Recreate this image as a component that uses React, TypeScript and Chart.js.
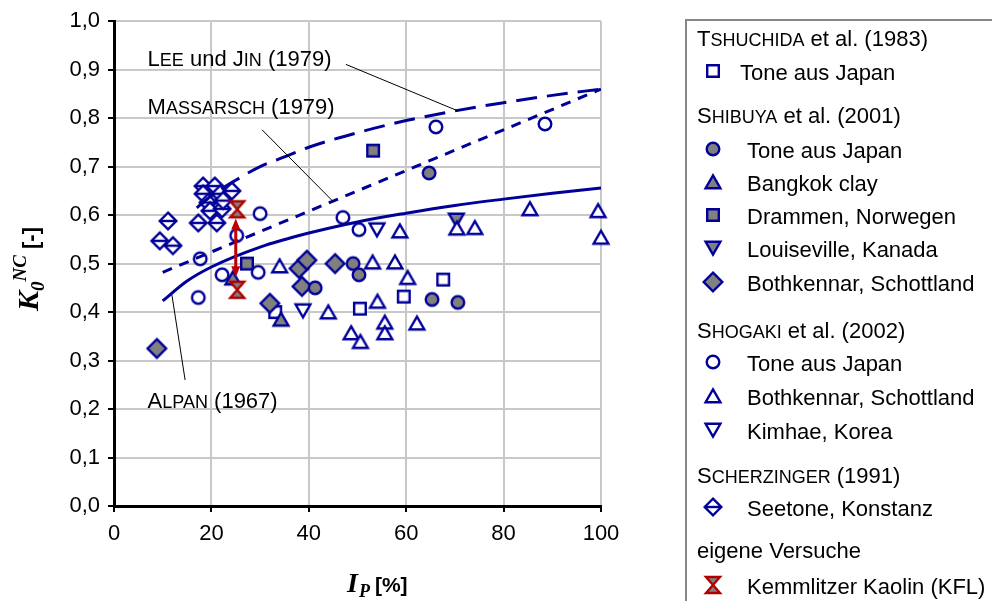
import React, { useEffect, useRef } from 'react';
import { Chart, registerables } from 'chart.js';

Chart.register(...registerables);

// ---------- tick labels ----------
const xTickLabels = ['0', '20', '40', '60', '80', '100'];
const yTickLabels = ['0,0', '0,1', '0,2', '0,3', '0,4', '0,5', '0,6', '0,7', '0,8', '0,9', '1,0'];

// ---------- TSHUCHIDA et al. (1983) ----------
const tshuchidaToneX = [33.1, 50.5, 59.5, 67.6];
const tshuchidaToneY = [0.4, 0.407, 0.432, 0.467];

// ---------- SHIBUYA et al. (2001) ----------
const shibuyaToneX = [41.3, 49.1, 50.3, 64.7, 65.3, 70.6];
const shibuyaToneY = [0.45, 0.5, 0.477, 0.687, 0.426, 0.42];
const bangkokX = [24.4, 34.3];
const bangkokY = [0.47, 0.385];
const drammenX = [27.3, 53.2];
const drammenY = [0.5, 0.733];
const louisevilleX = [70.3];
const louisevilleY = [0.59];
const bothkennarShibuyaX = [8.8, 32.0, 38.0, 38.6, 39.6, 45.4];
const bothkennarShibuyaY = [0.325, 0.418, 0.49, 0.453, 0.507, 0.5];

// ---------- SHOGAKI et al. (2002) ----------
const shogakiToneX = [17.3, 17.7, 22.2, 25.2, 29.6, 30.0, 47.0, 50.3, 66.1, 88.5];
const shogakiToneY = [0.43, 0.51, 0.477, 0.558, 0.482, 0.603, 0.595, 0.57, 0.782, 0.788];
const bothkennarShogakiX = [34.0, 44.0, 48.7, 50.6, 53.1, 54.1, 55.6, 55.6, 57.7, 58.7, 60.3, 62.2, 70.4, 74.1, 85.4, 99.4, 100];
const bothkennarShogakiY = [0.495, 0.4, 0.357, 0.339, 0.503, 0.422, 0.379, 0.357, 0.503, 0.567, 0.471, 0.377, 0.573, 0.574, 0.613, 0.609, 0.554];
const kimhaeX = [38.8, 54.0];
const kimhaeY = [0.403, 0.57];

// ---------- SCHERZINGER (1991) ----------
const seetoneX = [9.4, 11.1, 12.1, 17.3, 18.3, 18.3, 19.3, 19.7, 20.7, 21.1, 21.8, 22.2, 22.4, 24.2];
const seetoneY = [0.547, 0.588, 0.537, 0.584, 0.66, 0.644, 0.626, 0.609, 0.66, 0.584, 0.644, 0.613, 0.63, 0.65];

// ---------- eigene Versuche ----------
const kaolinX = [25.3, 25.3];
const kaolinY = [0.612, 0.446];
const kaolinArrowX = [25.0, 25.0];
const kaolinArrowY = [0.593, 0.472];

// ---------- correlation curves ----------
const alpanX = [10, 15, 20, 30, 40, 50, 60, 70, 80, 90, 100];
const alpanY = [0.423, 0.464, 0.493, 0.534, 0.563, 0.586, 0.604, 0.62, 0.633, 0.645, 0.656];
const massarschX = [10, 100];
const massarschY = [0.482, 0.86];
const leeJinX = [17, 20, 25, 30, 35, 40, 50, 60, 70, 80, 90, 100];
const leeJinY = [0.615, 0.64, 0.672, 0.7, 0.72, 0.74, 0.77, 0.795, 0.815, 0.832, 0.847, 0.86];

const NAVY = '#000099';
const GRAY = '#808080';
const RED = '#b00000';
const SANS = '"Liberation Sans", Arial, sans-serif';
const SERIF = '"Liberation Serif", "Times New Roman", serif';

type MarkerType =
  | 'sqOpen' | 'sqGray' | 'circOpen' | 'circGray' | 'triOpen' | 'triGray'
  | 'triDownOpen' | 'triDownGray' | 'diaGray' | 'diaLine' | 'hourglass';

function drawMarker(ctx: CanvasRenderingContext2D, type: MarkerType, x: number, y: number) {
  ctx.save();
  ctx.translate(x, y);
  ctx.lineWidth = 2.4;
  ctx.strokeStyle = NAVY;
  ctx.lineJoin = 'miter';
  ctx.beginPath();
  let fill = '#ffffff';
  switch (type) {
    case 'circOpen':
    case 'circGray':
      ctx.arc(0, 0, 6.3, 0, Math.PI * 2);
      fill = type === 'circGray' ? GRAY : '#ffffff';
      break;
    case 'sqOpen':
    case 'sqGray':
      ctx.rect(-5.8, -5.8, 11.6, 11.6);
      fill = type === 'sqGray' ? GRAY : '#ffffff';
      break;
    case 'triOpen':
    case 'triGray':
      ctx.moveTo(0, -6.6);
      ctx.lineTo(7.4, 6.2);
      ctx.lineTo(-7.4, 6.2);
      ctx.closePath();
      fill = type === 'triGray' ? GRAY : '#ffffff';
      break;
    case 'triDownOpen':
    case 'triDownGray':
      ctx.moveTo(0, 6.6);
      ctx.lineTo(7.4, -6.2);
      ctx.lineTo(-7.4, -6.2);
      ctx.closePath();
      fill = type === 'triDownGray' ? GRAY : '#ffffff';
      break;
    case 'diaGray':
      ctx.moveTo(0, -9.3);
      ctx.lineTo(9.3, 0);
      ctx.lineTo(0, 9.3);
      ctx.lineTo(-9.3, 0);
      ctx.closePath();
      fill = GRAY;
      break;
    case 'diaLine':
      ctx.moveTo(0, -8.3);
      ctx.lineTo(8.3, 0);
      ctx.lineTo(0, 8.3);
      ctx.lineTo(-8.3, 0);
      ctx.closePath();
      break;
    case 'hourglass':
      ctx.strokeStyle = RED;
      ctx.moveTo(-7, -8);
      ctx.lineTo(7, -8);
      ctx.lineTo(0, 0);
      ctx.closePath();
      ctx.moveTo(0, 0);
      ctx.lineTo(7, 8);
      ctx.lineTo(-7, 8);
      ctx.closePath();
      fill = GRAY;
      break;
  }
  ctx.fillStyle = fill;
  ctx.fill();
  ctx.stroke();
  if (type === 'diaLine') {
    ctx.beginPath();
    ctx.moveTo(-8.3, 0);
    ctx.lineTo(8.3, 0);
    ctx.stroke();
  }
  ctx.restore();
}

function markerCanvas(type: MarkerType): HTMLCanvasElement {
  const c = document.createElement('canvas');
  c.width = 26;
  c.height = 26;
  const ctx = c.getContext('2d')!;
  drawMarker(ctx, type, 13, 13);
  return c;
}

type Seg = { t: string; size: number };
function smallCaps(text: string, big: number, small: number): Seg[] {
  const segs: Seg[] = [];
  const parts = text.split(/(\s+)/);
  for (const w of parts) {
    const letters = w.replace(/[^A-Za-zÄÖÜäöü]/g, '');
    if (letters.length >= 2 && letters === letters.toUpperCase()) {
      const idx = w.search(/[A-Z]/);
      segs.push({ t: w.slice(0, idx + 1), size: big });
      segs.push({ t: w.slice(idx + 1), size: small });
    } else {
      segs.push({ t: w, size: big });
    }
  }
  return segs;
}

function drawSegs(ctx: CanvasRenderingContext2D, segs: Seg[], x: number, baseline: number) {
  let cx = x;
  ctx.textBaseline = 'alphabetic';
  ctx.textAlign = 'left';
  for (const s of segs) {
    ctx.font = `${s.size}px ${SANS}`;
    ctx.fillText(s.t, cx, baseline);
    cx += ctx.measureText(s.t).width;
  }
  return cx;
}

const legendRows: { kind: 'h' | 'm'; text: string; y: number; marker?: MarkerType; tx?: number }[] = [
  { kind: 'h', text: 'TSHUCHIDA et al. (1983)', y: 38 },
  { kind: 'm', marker: 'sqOpen', text: 'Tone aus Japan', y: 72, tx: 740 },
  { kind: 'h', text: 'SHIBUYA et al. (2001)', y: 115 },
  { kind: 'm', marker: 'circGray', text: 'Tone aus Japan', y: 150 },
  { kind: 'm', marker: 'triGray', text: 'Bangkok clay', y: 183 },
  { kind: 'm', marker: 'sqGray', text: 'Drammen, Norwegen', y: 216 },
  { kind: 'm', marker: 'triDownGray', text: 'Louiseville, Kanada', y: 249 },
  { kind: 'm', marker: 'diaGray', text: 'Bothkennar, Schottland', y: 283 },
  { kind: 'h', text: 'SHOGAKI et al. (2002)', y: 330 },
  { kind: 'm', marker: 'circOpen', text: 'Tone aus Japan', y: 363 },
  { kind: 'm', marker: 'triOpen', text: 'Bothkennar, Schottland', y: 397 },
  { kind: 'm', marker: 'triDownOpen', text: 'Kimhae, Korea', y: 431 },
  { kind: 'h', text: 'SCHERZINGER (1991)', y: 475 },
  { kind: 'm', marker: 'diaLine', text: 'Seetone, Konstanz', y: 508 },
  { kind: 'h', text: 'eigene Versuche', y: 550 },
  { kind: 'm', marker: 'hourglass', text: 'Kemmlitzer Kaolin (KFL)', y: 586 },
];

const BIG = 22;
const SMALL = 18;

const overlayPlugin = {
  id: 'overlay',
  afterDatasetsDraw(chart: any) {
    const ctx: CanvasRenderingContext2D = chart.ctx;
    const xs = chart.scales.x;
    const ys = chart.scales.y;
    const px = (v: number) => xs.getPixelForValue(v);
    const py = (v: number) => ys.getPixelForValue(v);

    // red double arrow between Kaolin measurements
    ctx.save();
    ctx.strokeStyle = '#c00000';
    ctx.fillStyle = '#c00000';
    ctx.lineWidth = 3;
    const ax = px(kaolinArrowX[0]);
    const ay1 = py(kaolinArrowY[0]);
    const ay2 = py(kaolinArrowY[1]);
    ctx.beginPath();
    ctx.moveTo(ax, ay1 + 6);
    ctx.lineTo(ax, ay2 - 6);
    ctx.stroke();
    ctx.beginPath();
    ctx.moveTo(ax, ay1);
    ctx.lineTo(ax - 4.5, ay1 + 11);
    ctx.lineTo(ax + 4.5, ay1 + 11);
    ctx.closePath();
    ctx.fill();
    ctx.beginPath();
    ctx.moveTo(ax, ay2);
    ctx.lineTo(ax - 4.5, ay2 - 11);
    ctx.lineTo(ax + 4.5, ay2 - 11);
    ctx.closePath();
    ctx.fill();
    ctx.restore();

    // leader lines
    ctx.save();
    ctx.strokeStyle = '#000';
    ctx.lineWidth = 1;
    const leader = (x1: number, y1: number, x2: number, y2: number) => {
      ctx.beginPath();
      ctx.moveTo(px(x1), py(y1));
      ctx.lineTo(px(x2), py(y2));
      ctx.stroke();
    };
    leader(47.6, 0.911, 70.6, 0.815);
    leader(30.4, 0.776, 45.0, 0.628);
    leader(14.6, 0.26, 11.9, 0.435);
    ctx.fillStyle = '#000';
    drawSegs(ctx, smallCaps('LEE und JIN (1979)', BIG, SMALL), px(6.9), py(0.925) + 8);
    drawSegs(ctx, smallCaps('MASSARSCH (1979)', BIG, SMALL), px(6.9), py(0.826) + 8);
    drawSegs(ctx, smallCaps('ALPAN (1967)', BIG, SMALL), px(6.9), py(0.218) + 8);
    ctx.restore();
  },
  afterDraw(chart: any) {
    const ctx: CanvasRenderingContext2D = chart.ctx;
    ctx.save();
    ctx.fillStyle = '#000';
    // x-axis title: I_P [%]
    let x = 347;
    const base = 592;
    ctx.textBaseline = 'alphabetic';
    ctx.font = `bold italic 28px ${SERIF}`;
    ctx.fillText('I', x, base);
    x += ctx.measureText('I').width + 1;
    ctx.font = `bold italic 18px ${SERIF}`;
    ctx.fillText('P', x, base + 5);
    x += ctx.measureText('P').width + 5;
    ctx.font = `bold 21px ${SANS}`;
    ctx.fillText('[%]', x, base);

    // y-axis title: K_0^NC [-]  (sequential rich text, read bottom-to-top)
    ctx.translate(38, 311);
    ctx.rotate(-Math.PI / 2);
    const parts = [
      { t: 'K', f: `bold italic 30px ${SERIF}`, dy: 0 },
      { t: '0', f: `bold italic 19px ${SERIF}`, dy: 6 },
      { t: 'NC', f: `bold italic 19px ${SERIF}`, dy: -12 },
      { t: ' [-]', f: `bold 22px ${SANS}`, dy: 0 },
    ];
    let cx = 0;
    for (const p of parts) {
      ctx.font = p.f;
      ctx.fillText(p.t, cx, p.dy);
      cx += ctx.measureText(p.t).width;
    }
    ctx.restore();

    // legend box
    ctx.save();
    ctx.strokeStyle = '#888888';
    ctx.lineWidth = 2;
    ctx.strokeRect(686, 20, 400, 700);
    ctx.fillStyle = '#000';
    for (const r of legendRows) {
      if (r.kind === 'h') {
        drawSegs(ctx, smallCaps(r.text, BIG, SMALL), 697, r.y + 8);
      } else {
        drawMarker(ctx, r.marker!, 713, r.y - 1);
        ctx.fillStyle = '#000';
        ctx.font = `${BIG}px ${SANS}`;
        ctx.textBaseline = 'alphabetic';
        ctx.fillText(r.text, r.tx ?? 747, r.y + 8);
      }
    }
    ctx.restore();
  },
};

export default function App() {
  const ref = useRef<HTMLCanvasElement>(null);
  useEffect(() => {
    const canvas = ref.current!;
    const pts = (xs: number[], ys: number[]) => xs.map((v, i) => ({ x: v, y: ys[i] }));
    const scatter = (label: string, xs: number[], ys: number[], type: MarkerType) => ({
      label,
      data: pts(xs, ys),
      pointStyle: markerCanvas(type),
      pointRadius: 8,
      pointHoverRadius: 8,
      showLine: false,
      clip: false as any,
    });
    const line = (label: string, xs: number[], ys: number[], dash: number[]) => ({
      label,
      data: pts(xs, ys),
      showLine: true,
      borderColor: NAVY,
      borderWidth: 3,
      borderDash: dash,
      pointRadius: 0,
      pointHoverRadius: 0,
      fill: false,
      cubicInterpolationMode: 'monotone' as const,
      borderCapStyle: 'butt' as const,
    });
    const gridOpts = {
      color: '#c8c8c8',
      lineWidth: 2,
      drawTicks: true,
      tickLength: 6,
      tickColor: '#000',
      tickWidth: 2,
    };
    const chart = new Chart(canvas, {
      type: 'scatter',
      data: {
        datasets: [
          line('LEE und JIN (1979)', leeJinX, leeJinY, [21, 10]),
          line('MASSARSCH (1979)', massarschX, massarschY, [10, 8]),
          line('ALPAN (1967)', alpanX, alpanY, []),
          scatter('Kemmlitzer Kaolin (KFL)', kaolinX, kaolinY, 'hourglass'),
          scatter('Tone aus Japan (Shogaki)', shogakiToneX, shogakiToneY, 'circOpen'),
          scatter('Bothkennar (Shogaki)', bothkennarShogakiX, bothkennarShogakiY, 'triOpen'),
          scatter('Kimhae, Korea', kimhaeX, kimhaeY, 'triDownOpen'),
          scatter('Louiseville, Kanada', louisevilleX, louisevilleY, 'triDownGray'),
          scatter('Tone aus Japan (Shibuya)', shibuyaToneX, shibuyaToneY, 'circGray'),
          scatter('Bangkok clay', bangkokX, bangkokY, 'triGray'),
          scatter('Drammen, Norwegen', drammenX, drammenY, 'sqGray'),
          scatter('Bothkennar (Shibuya)', bothkennarShibuyaX, bothkennarShibuyaY, 'diaGray'),
          scatter('Tone aus Japan (Tshuchida)', tshuchidaToneX, tshuchidaToneY, 'sqOpen'),
          scatter('Seetone, Konstanz', seetoneX, seetoneY, 'diaLine'),
        ] as any,
      },
      options: {
        responsive: false,
        animation: false,
        devicePixelRatio: 1,
        events: [],
        layout: { padding: { left: 0, top: 20, right: 391, bottom: 0 } },
        plugins: { legend: { display: false }, tooltip: { enabled: false } },
        scales: {
          x: {
            type: 'linear',
            min: 0,
            max: 100,
            afterFit: (s: any) => {
              s.height = 95;
            },
            ticks: {
              stepSize: 20,
              autoSkip: false,
              maxRotation: 0,
              padding: 9,
              color: '#000',
              font: { family: SANS, size: BIG },
              callback: (_v: any, i: number) => xTickLabels[i],
            },
            grid: gridOpts,
            border: { display: true, color: '#000', width: 3 },
          },
          y: {
            type: 'linear',
            min: 0,
            max: 1,
            afterFit: (s: any) => {
              s.width = 114;
            },
            ticks: {
              stepSize: 0.1,
              autoSkip: false,
              padding: 8,
              color: '#000',
              font: { family: SANS, size: BIG },
              callback: (_v: any, i: number) => yTickLabels[i],
            },
            grid: gridOpts,
            border: { display: true, color: '#000', width: 3 },
          },
        },
      } as any,
      plugins: [overlayPlugin],
    });
    return () => chart.destroy();
  }, []);
  return (
    <div style={{ position: 'absolute', left: 0, top: 0, width: 992, height: 601, background: '#fff' }}>
      <canvas ref={ref} width={992} height={601} style={{ display: 'block', width: 992, height: 601 }} />
    </div>
  );
}
